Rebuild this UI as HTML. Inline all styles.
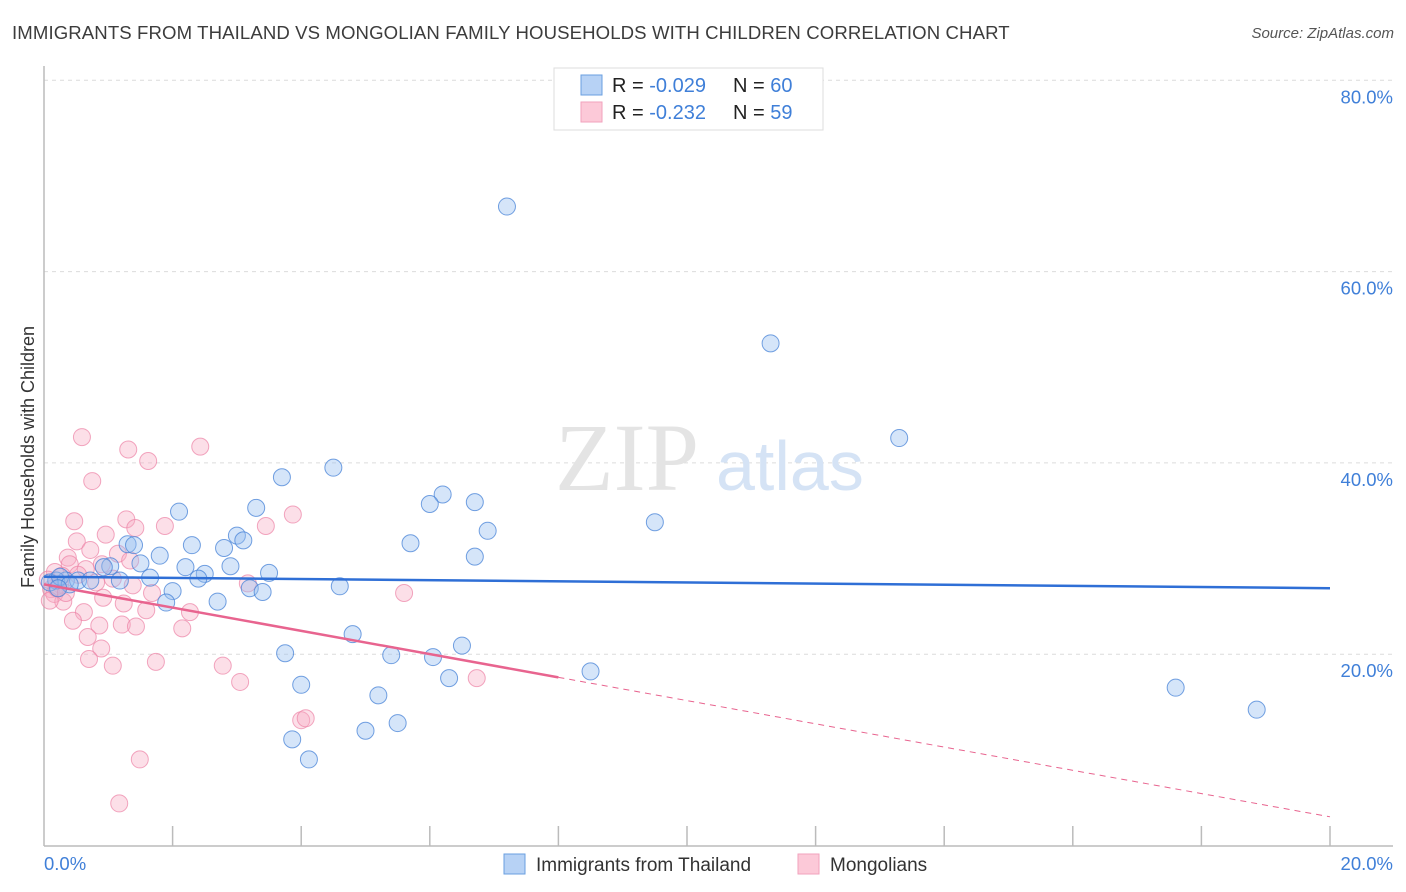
<!DOCTYPE html>
<html><head><meta charset="utf-8">
<style>
body{margin:0;background:#fff;font-family:"Liberation Sans",sans-serif;}
#wrap{position:relative;width:1406px;height:892px;overflow:hidden;}
.title{position:absolute;left:12px;top:22px;font-size:18.6px;color:#3c3c3c;letter-spacing:0.1px}
.source{position:absolute;right:12px;top:25px;font-size:15px;color:#555;font-style:italic}
</style></head><body>
<div id="wrap">
<div class="title">IMMIGRANTS FROM THAILAND VS MONGOLIAN FAMILY HOUSEHOLDS WITH CHILDREN CORRELATION CHART</div>
<div class="source">Source: ZipAtlas.com</div>
<svg id="svg" width="1406" height="892" style="position:absolute;left:0;top:0"></svg>
</div>
<script>
const blueX=[7.2,11.3,13.3,4.5,3.7,6.2,6.0,6.7,2.1,3.3,6.9,9.5,3.0,3.1,1.3,1.4,2.3,1.8,2.8,5.7,1.5,6.7,2.2,2.9,3.5,2.5,2.4,1.65,1.03,0.93,1.18,0.34,0.53,0.72,0.19,4.6,3.2,3.4,2.0,1.9,2.7,4.8,6.5,3.75,5.4,6.05,8.5,4.0,6.3,5.2,17.6,18.86,5.5,5.0,3.86,4.12,0.09,0.25,0.4,0.22];
const blueY=[66.8,52.5,42.6,39.5,38.5,36.7,35.7,35.9,34.9,35.3,32.9,33.8,32.4,31.9,31.5,31.4,31.4,30.3,31.1,31.6,29.5,30.2,29.1,29.2,28.5,28.4,27.9,28.0,29.2,29.1,27.7,27.7,27.7,27.7,27.7,27.1,26.9,26.5,26.6,25.4,25.5,22.1,20.9,20.1,19.9,19.7,18.2,16.8,17.5,15.7,16.5,14.2,12.8,12.0,11.1,9.0,27.5,28.1,27.3,26.9];
const pinkX=[0.59,2.43,1.31,1.62,0.75,0.47,1.28,1.88,3.87,3.45,1.42,0.96,0.51,0.72,1.15,0.37,0.40,1.34,0.90,0.65,0.17,0.28,0.25,0.11,0.16,0.81,1.07,1.38,1.68,0.30,0.92,1.24,1.59,0.62,2.27,0.45,0.86,1.21,1.43,2.15,0.68,0.89,0.70,1.74,1.07,2.78,3.05,5.6,3.17,6.73,4.0,4.07,1.49,1.17,0.09,0.20,0.34,0.53,0.06];
const pinkY=[42.7,41.7,41.4,40.2,38.1,33.9,34.1,33.4,34.6,33.4,33.2,32.5,31.8,30.9,30.5,30.1,29.4,29.8,29.4,28.9,28.6,28.2,27.3,26.8,26.3,27.5,27.9,27.2,26.4,25.5,25.9,25.3,24.6,24.4,24.4,23.5,23.0,23.1,22.9,22.7,21.8,20.6,19.5,19.2,18.8,18.8,17.1,26.4,27.4,17.5,13.1,13.3,9.0,4.4,25.6,26.9,26.4,28.3,27.8];
const trendBlue=[28.1,26.9];
const trendPink=[27.3,3.0];
const yTicks=[20,40,60,80];
const xTickLabels=["0.0%","20.0%"];
const svg=document.getElementById('svg');
const NS="http://www.w3.org/2000/svg";
const X=v=>44+v/20*1286, Y=v=>845.5-v/20*191.3;
function mk(t,a){const e=document.createElementNS(NS,t);for(const k in a)e.setAttribute(k,a[k]);svg.appendChild(e);return e;}
yTicks.forEach(t=>{
 const g=mk('line',{x1:44,x2:1393,y1:Y(t),y2:Y(t),stroke:'#dcdcdc','stroke-dasharray':'4,4'});
 
 
 const l=mk('text',{x:1393,y:Y(t)+23,'text-anchor':'end','font-size':18.5,fill:'#3f7fd8'});
 l.textContent=t.toFixed(1)+'%';
 
 
});
let a=mk('line',{x1:44,x2:44,y1:66,y2:846,stroke:'#bbb','stroke-width':1.5});


a=mk('line',{x1:44,x2:1393,y1:846,y2:846,stroke:'#bbb','stroke-width':1.5});


for(let i=1;i<=10;i++){const t=mk('line',{x1:X(i*2),x2:X(i*2),y1:826,y2:846,stroke:'#bbb','stroke-width':1.5});

}
[[0,'start',44],[20,'end',1393]].forEach((d,i)=>{const t=mk('text',{x:d[2],y:870,'text-anchor':d[1],'font-size':18.5,fill:'#3f7fd8'});t.textContent=xTickLabels[i];

});
let w=mk('text',{x:555,y:490,'font-size':96,fill:'#e4e4e4','font-family':'Liberation Serif'});w.textContent='ZIP';


w=mk('text',{x:716,y:490,'font-size':70,fill:'#d5e3f5'});w.textContent='atlas';


let yt=mk('text',{x:0,y:0,'font-size':18,fill:'#333',transform:'translate(34,457) rotate(-90)','text-anchor':'middle'});yt.textContent='Family Households with Children';


pinkX.forEach((x,i)=>{const c=mk('circle',{cx:X(x),cy:Y(pinkY[i]),r:8.5,fill:'rgba(248,170,195,0.38)',stroke:'rgba(236,130,165,0.7)','stroke-width':1});

});
blueX.forEach((x,i)=>{const c=mk('circle',{cx:X(x),cy:Y(blueY[i]),r:8.5,fill:'rgba(150,190,240,0.4)',stroke:'rgba(70,130,215,0.75)','stroke-width':1});

});
let tl=mk('line',{x1:X(0),y1:Y(trendBlue[0]),x2:X(20),y2:Y(trendBlue[1]),stroke:'#2f6fd6','stroke-width':2.5});


const pAt=x=>trendPink[0]+(trendPink[1]-trendPink[0])*x/20;
tl=mk('line',{x1:X(0),y1:Y(pAt(0)),x2:X(8),y2:Y(pAt(8)),stroke:'#e8648f','stroke-width':2.5});


tl=mk('line',{x1:X(8),y1:Y(pAt(8)),x2:X(20),y2:Y(pAt(20)),stroke:'#e8648f','stroke-width':1,'stroke-dasharray':'6,5'});


let lb=mk('rect',{x:554,y:68,width:269,height:62,fill:'#fff',stroke:'#ddd'});


[[0,'#b7d2f5','#6a9fe0','-0.029','60'],[1,'#fcc9d8','#f2a2bd','-0.232','59']].forEach(d=>{
 const yy=75+d[0]*27;
 let r=mk('rect',{x:581,y:yy,width:21,height:20,fill:d[1],stroke:d[2]});
 
 
 let t=mk('text',{x:612,y:yy+17,'font-size':20,fill:'#222'});
 t.innerHTML='R = <tspan fill="#3f7fd8">'+(d[0]? ' ':'')+d[3]+'</tspan><tspan x="733">N = </tspan><tspan fill="#3f7fd8">'+(d[0]?' ':'')+d[4]+'</tspan>';
 
 
});
[[504,'#b7d2f5','#6a9fe0','Immigrants from Thailand'],[798,'#fcc9d8','#f2a2bd','Mongolians']].forEach(d=>{
 let r=mk('rect',{x:d[0],y:854,width:21,height:20,fill:d[1],stroke:d[2]});
 
 
 let t=mk('text',{x:d[0]+32,y:871,'font-size':19,fill:'#333'});t.textContent=d[3];
 
 
});
</script>
</body></html>
